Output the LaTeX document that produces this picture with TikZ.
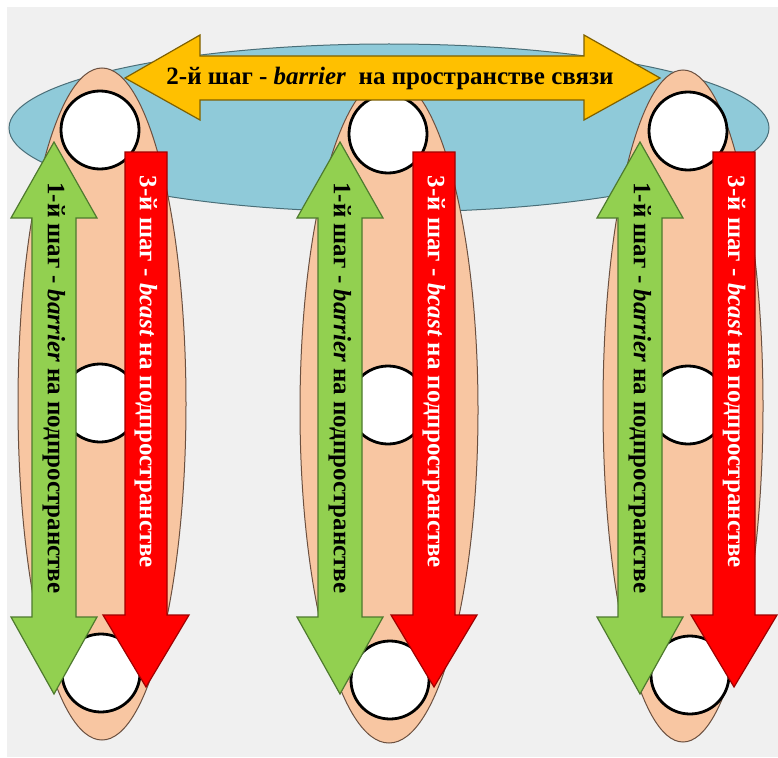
\documentclass[tikz,border=0pt]{standalone}
\usepackage{fontspec}
\setmainfont{Liberation Serif}
\definecolor{bggray}{HTML}{F0F0F0}
\definecolor{skyblue}{HTML}{8FCAD9}
\definecolor{skyline}{HTML}{4A6E78}
\definecolor{peach}{HTML}{F8C6A2}
\definecolor{peachline}{HTML}{6B5040}
\definecolor{gold}{HTML}{FFC000}
\definecolor{goldline}{HTML}{7F6000}
\definecolor{lgreen}{HTML}{92D050}
\definecolor{greenline}{HTML}{4E7A2E}
\definecolor{bred}{HTML}{FF0000}
\definecolor{redline}{HTML}{A00000}
\begin{document}
\begin{tikzpicture}[x=1pt,y=-1pt,
  blueell/.style={fill=skyblue,draw=skyline,line width=1pt},
  peachell/.style={fill=peach,draw=peachline,line width=1pt},
  circ/.style={circle,fill=white,draw=black,line width=2.8pt,minimum size=78pt,inner sep=0pt},
  goldarrow/.style={fill=gold,draw=goldline,line width=1.2pt,line join=miter},
  greenarrow/.style={fill=lgreen,draw=greenline,line width=1.2pt,line join=miter},
  redarrow/.style={fill=bred,draw=redline,line width=1.2pt,line join=miter},
  lbl/.style={font=\fontsize{25}{27}\selectfont\bfseries,inner sep=0pt},
  vlbl/.style={lbl,rotate=-90}]
\useasboundingbox (0,0) rectangle (778,757);
\fill[white] (0,0) rectangle (778,757);
\fill[bggray] (7,7) rectangle (778,757);
% blue ellipse (communication space)
\draw[blueell] (389,128) ellipse [x radius=380pt, y radius=84pt];
% peach ellipses (subspaces)
\draw[peachell] (102,404) ellipse [x radius=84pt, y radius=336pt];
\draw[peachell] (389,410) ellipse [x radius=89pt, y radius=333pt];
\draw[peachell] (683,406) ellipse [x radius=80pt, y radius=336pt];
% processes
\node[circ] (t1) at (100,130) {};
\node[circ] (t2) at (388,134) {};
\node[circ] (t3) at (688,131) {};
\node[circ] (m1) at (100,403) {};
\node[circ] (m2) at (388,405) {};
\node[circ] (m3) at (688,405) {};
\node[circ] (b1) at (101,673) {};
\node[circ] (b2) at (390,680) {};
\node[circ] (b3) at (690,675) {};
% step 2 arrow
\draw[goldarrow] (125,78) -- (200,35) -- (200,56) -- (584,56) -- (584,35) -- (660,78)
  -- (584,120) -- (584,100) -- (200,100) -- (200,120) -- cycle;
\node[lbl] (s2) at (390,78) {2-й шаг - \textit{barrier}\ \ на пространстве связи};
% steps 1 and 3 in each column
\foreach \g/\r/\i in {54/146/1, 340/434/2, 640/734/3}{
  \draw[greenarrow] (\g,142) -- (\g+43,218) -- (\g+22,218) -- (\g+22,617) -- (\g+43,617)
    -- (\g,694) -- (\g-43,617) -- (\g-22,617) -- (\g-22,218) -- (\g-43,218) -- cycle;
  \draw[redarrow] (\r-21,152) -- (\r+21,152) -- (\r+21,615) -- (\r+43,615) -- (\r,687)
    -- (\r-43,615) -- (\r-21,615) -- cycle;
  \node[vlbl] (s1\i) at (\g,388) {1-й шаг - \textit{barrier} на подпространстве};
  \node[vlbl,text=white] (s3\i) at (\r,372) {3-й шаг - \textit{bcast} на подпространстве};
}
\end{tikzpicture}
\end{document}
